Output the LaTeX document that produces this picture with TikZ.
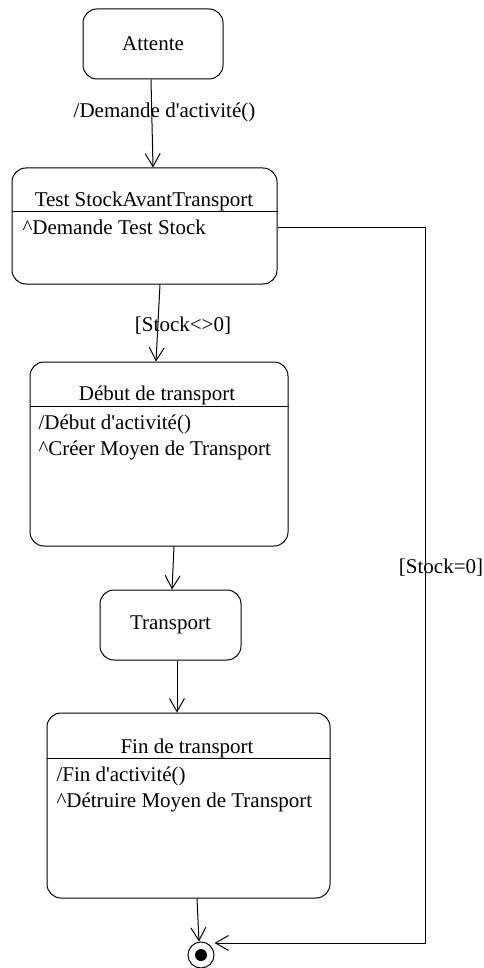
\documentclass[tikz,border=0pt]{standalone}
\usepackage{fontspec}
\setmainfont{Liberation Serif}[Ligatures=TeXOff]
\usetikzlibrary{arrows.meta}

\begin{document}
\begin{tikzpicture}[x=1pt, y=-1pt, line width=1pt,
    stbox/.style={draw, rounded corners=14pt, inner sep=0pt,
      font=\fontsize{21}{25}\selectfont},
    txt/.style={inner sep=0pt, anchor=base, font=\fontsize{21}{25}\selectfont},
    trans/.style={-{Straight Barb[length=13pt, width=15pt]}}]
  \useasboundingbox (0,0) rectangle (484,968);
  % simple states
  \node[stbox, minimum width=140pt, minimum height=70pt] (att) at (153,44) {Attente};
  \node[stbox, minimum width=141pt, minimum height=70pt] (trp) at (170.5,625) {Transport};
  % states with actions
  \node[stbox, minimum width=265pt, minimum height=116pt] (tst) at (144.5,226) {};
  \node[stbox, minimum width=258pt, minimum height=184pt] (deb) at (159,454) {};
  \node[stbox, minimum width=283pt, minimum height=185pt] (fin) at (188.5,805.5) {};
  \foreach \s/\y in {tst/212, deb/406, fin/758}
    \draw (\s.west |- 0,\y) -- (\s.east |- 0,\y);
  \node[txt] (tstT) at (144,207) {Test StockAvantTransport};
  \node[txt, anchor=base west] (tstA) at (22,235) {\textasciicircum Demande Test Stock};
  \node[txt] (debT) at (157,400) {Début de transport};
  \node[txt, anchor=base west] (debA) at (38,429) {/Début d'activité()};
  \node[txt, anchor=base west] (debB) at (38,455) {\textasciicircum Créer Moyen de Transport};
  \node[txt] (finT) at (187,753) {Fin de transport};
  \node[txt, anchor=base west] (finA) at (56,781) {/Fin d'activité()};
  \node[txt, anchor=base west] (finB) at (56,807) {\textasciicircum Détruire Moyen de Transport};
  % final state
  \node[draw, circle, minimum size=26pt, inner sep=0pt] (end) at (201,955) {};
  \fill (end.center) circle (6pt);
  % transitions
  \node[txt] (ev1) at (164.5,118) {/Demande d'activité()};
  \node[txt] (g1) at (183,331) {[Stock<>0]};
  \node[txt] (g2) at (441,573) {[Stock=0]};
  \coordinate (cr) at (425,943);
  \draw[trans] ([xshift=-2pt]att.south) -- ([xshift=8.5pt]tst.north);
  \draw[trans] ([xshift=15.5pt]tst.south) -- ([xshift=-3pt]deb.north);
  \draw[trans] ([xshift=15pt]deb.south) -- ([xshift=1.5pt]trp.north);
  \draw[trans] ([xshift=6.5pt]trp.south) -- ([xshift=-11.5pt]fin.north);
  \draw[trans] ([xshift=8.5pt]fin.south) -- ([xshift=-2pt]end.north);
  \draw[trans] ([yshift=-2pt]tst.east) -| (cr) -- (end.east |- cr);
\end{tikzpicture}
\end{document}
